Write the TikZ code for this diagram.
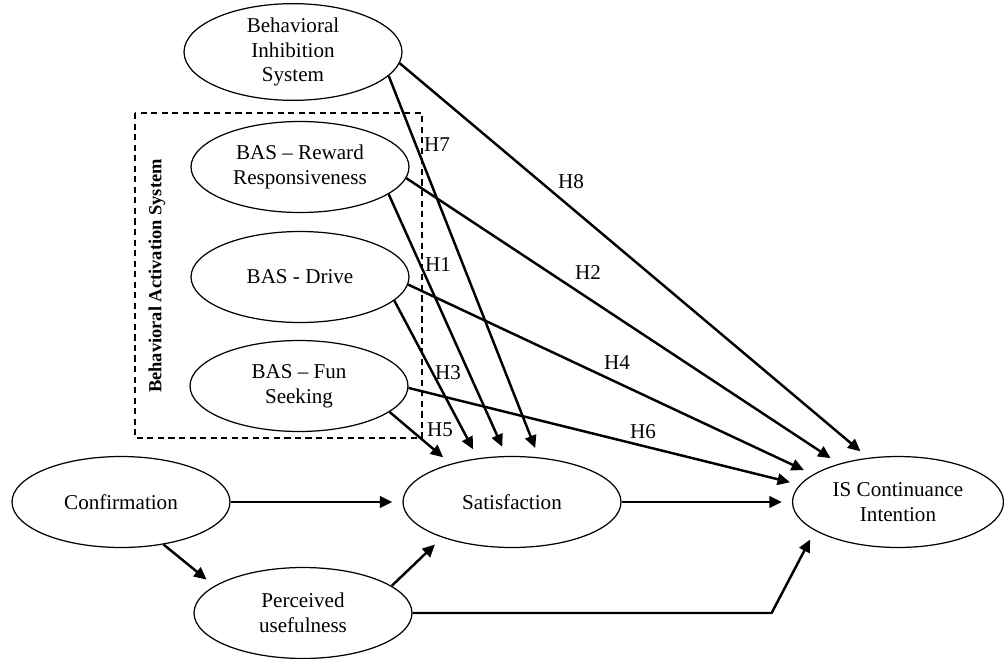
\documentclass[tikz,border=0pt]{standalone}
\usepackage{fontspec}
\setmainfont{Liberation Serif}
\usetikzlibrary{shapes.geometric, arrows.meta}

\begin{document}
\begin{tikzpicture}[
    x=0.02cm, y=-0.02cm,
    font=\fontsize{12}{14}\selectfont,
    construct/.style={
        ellipse, draw=black, line width=0.7pt,
        align=center, inner sep=0pt,
        minimum width=4.36cm, minimum height=1.82cm
    },
    hyp/.style={inner sep=1pt},
    arrow/.style={
        -{Triangle[length=2.5mm,width=2.3mm]},
        draw=black, line width=1.4pt, shorten >=0.2cm
    }
]
    \useasboundingbox (0,0) rectangle (1004,659);

    % constructs
    \node[construct] (bis) at (293,52) {Behavioral\\Inhibition\\System};
    \node[construct] (rew) at (300,167) {BAS – Reward\\Responsiveness};
    \node[construct] (drv) at (300,277) {BAS - Drive};
    \node[construct] (fun) at (299,386) {BAS – Fun\\Seeking};
    \node[construct] (conf) at (121,502) {Confirmation};
    \node[construct] (perc) at (303,613) {Perceived\\usefulness};
    \node[construct] (sat) at (512,502) {Satisfaction};
    \node[construct, minimum width=4.22cm] (isc) at (898,502) {IS Continuance\\Intention};

    % BAS group
    \draw[dashed, line width=0.6pt, dash pattern=on 3.5pt off 2.5pt] (135,113) rectangle (422,438);
    \node[rotate=90, font=\fontsize{10.5}{12}\bfseries\selectfont] (bas) at (157,276) {Behavioral Activation System};

    % hypotheses to satisfaction
    \draw[arrow] (bis.-14) -- (sat.59);
    \draw[arrow] (rew.-17) -- (sat.97);
    \draw[arrow] (drv.-14) -- (sat.128);
    \draw[arrow] (fun.-16) -- (sat.148);

    % hypotheses to continuance
    \draw[arrow] (bis.-6) -- (isc.124);
    \draw[arrow] (rew.-6) -- (isc.147);
    \draw[arrow] (drv.-4) -- (isc.162);
    \draw[arrow] (fun.-1) -- (isc.170);

    \node[hyp] (h7) at (437,145) {H7};
    \node[hyp] (h1) at (438,265) {H1};
    \node[hyp] (h3) at (448,373) {H3};
    \node[hyp] (h5) at (440,430) {H5};
    \node[hyp] (h8) at (571,182) {H8};
    \node[hyp] (h2) at (588,273) {H2};
    \node[hyp] (h4) at (617,363) {H4};
    \node[hyp] (h6) at (643,432) {H6};

    % ECM paths
    \draw[arrow] (conf.east) -- (sat.west);
    \draw[arrow] (sat.east) -- (isc.west);
    \draw[arrow] (conf.-45) -- (perc.163);
    \draw[arrow] (perc.17) -- (sat.-153);
    \draw[arrow] (perc.east) -- ++(359,0) -- (isc.-161);
\end{tikzpicture}
\end{document}
